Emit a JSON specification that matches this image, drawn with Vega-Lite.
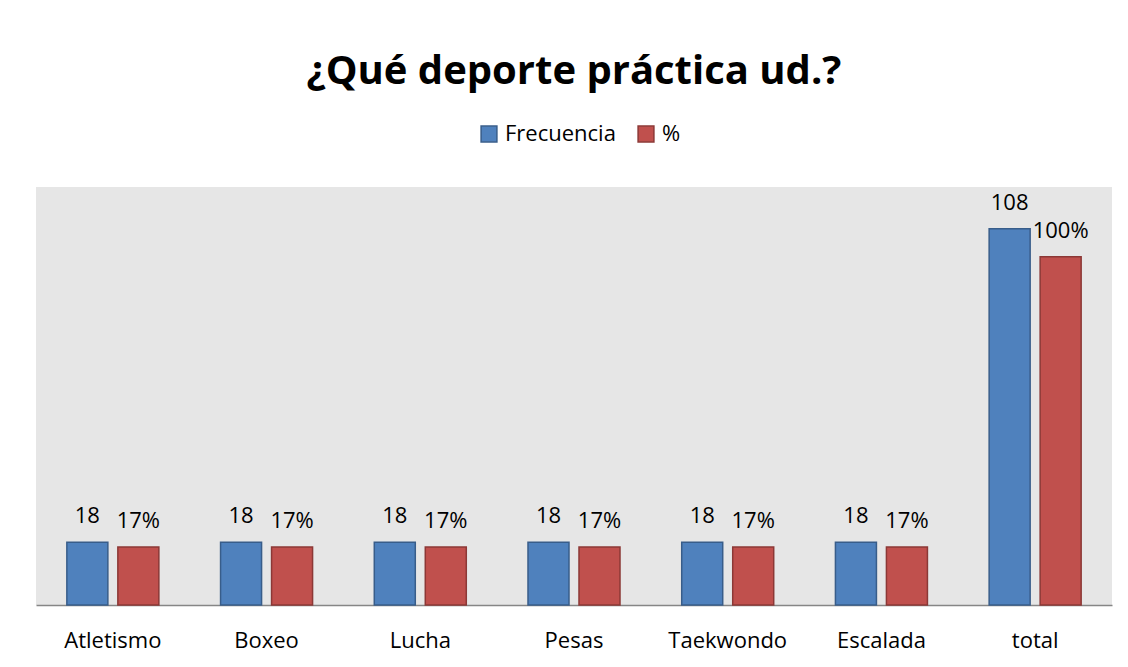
{
  "$schema": "https://vega.github.io/schema/vega-lite/v6.json",
  "width": 1076,
  "height": 418,
  "autosize": {"type": "none"},
  "padding": {"left": 36, "top": 187, "right": 16, "bottom": 62},
  "background": "white",
  "title": {
    "text": "¿Qué deporte práctica ud.?",
    "anchor": "middle",
    "font": "Open Sans",
    "fontSize": 40,
    "fontWeight": "bold",
    "color": "black",
    "offset": 31
  },
  "config": {
    "view": {"fill": "#e6e6e6", "stroke": null},
    "font": "Open Sans"
  },
  "data": {
    "values": [
      {"categoria": "Atletismo", "serie": "Frecuencia", "valor": 18},
      {"categoria": "Boxeo", "serie": "Frecuencia", "valor": 18},
      {"categoria": "Lucha", "serie": "Frecuencia", "valor": 18},
      {"categoria": "Pesas", "serie": "Frecuencia", "valor": 18},
      {"categoria": "Taekwondo", "serie": "Frecuencia", "valor": 18},
      {"categoria": "Escalada", "serie": "Frecuencia", "valor": 18},
      {"categoria": "total", "serie": "Frecuencia", "valor": 108},
      {"categoria": "Atletismo", "serie": "%", "valor": 0.1667},
      {"categoria": "Boxeo", "serie": "%", "valor": 0.1667},
      {"categoria": "Lucha", "serie": "%", "valor": 0.1667},
      {"categoria": "Pesas", "serie": "%", "valor": 0.1667},
      {"categoria": "Taekwondo", "serie": "%", "valor": 0.1667},
      {"categoria": "Escalada", "serie": "%", "valor": 0.1667},
      {"categoria": "total", "serie": "%", "valor": 1}
    ]
  },
  "encoding": {
    "x": {
      "field": "categoria",
      "type": "nominal",
      "sort": ["Atletismo", "Boxeo", "Lucha", "Pesas", "Taekwondo", "Escalada", "total"],
      "scale": {"paddingInner": 0, "paddingOuter": 0},
      "axis": {
        "title": null,
        "labelAngle": 0,
        "labelFontSize": 22,
        "labelColor": "black",
        "labelPadding": 25,
        "labelBaseline": "top",
        "ticks": false,
        "domainColor": "#868686",
        "domainWidth": 1.5,
        "grid": false
      }
    },
    "xOffset": {
      "field": "serie",
      "type": "nominal",
      "scale": {"domain": ["Frecuencia", "%"], "paddingInner": 0.196, "paddingOuter": 0.605}
    }
  },
  "layer": [
    {
      "transform": [{"filter": "datum.serie === 'Frecuencia'"}],
      "layer": [
        {
          "mark": {"type": "bar", "strokeWidth": 1.5},
          "encoding": {
            "y": {"field": "valor", "type": "quantitative", "scale": {"domain": [0, 120], "nice": false}, "axis": null},
            "fill": {
              "field": "serie", "type": "nominal",
              "scale": {"domain": ["Frecuencia", "%"], "range": ["#4F81BD", "#C0504D"]},
              "legend": {
                "title": null,
                "orient": "none",
                "legendX": 442,
                "legendY": -64,
                "direction": "horizontal",
                "symbolType": "square",
                "symbolSize": 250,
                "symbolStrokeWidth": 1.5,
                "labelFontSize": 22,
                "labelColor": "black",
                "labelOffset": 5,
                "columnPadding": 19,
                "padding": 0
              }
            },
            "stroke": {
              "field": "serie", "type": "nominal",
              "scale": {"domain": ["Frecuencia", "%"], "range": ["#385D8A", "#8C3836"]}
            }
          }
        },
        {
          "mark": {"type": "text", "baseline": "alphabetic", "dy": -19, "fontSize": 22, "color": "black"},
          "encoding": {
            "y": {"field": "valor", "type": "quantitative", "scale": {"domain": [0, 120], "nice": false}, "axis": null},
            "text": {"field": "valor", "type": "quantitative", "format": "d"}
          }
        }
      ]
    },
    {
      "transform": [{"filter": "datum.serie === '%'"}],
      "layer": [
        {
          "mark": {"type": "bar", "strokeWidth": 1.5},
          "encoding": {
            "y": {"field": "valor", "type": "quantitative", "scale": {"domain": [0, 1.2], "nice": false}, "axis": null},
            "fill": {"field": "serie", "type": "nominal"},
            "stroke": {"field": "serie", "type": "nominal"}
          }
        },
        {
          "mark": {"type": "text", "baseline": "alphabetic", "dy": -19, "fontSize": 22, "color": "black"},
          "encoding": {
            "y": {"field": "valor", "type": "quantitative", "scale": {"domain": [0, 1.2], "nice": false}, "axis": null},
            "text": {"field": "valor", "type": "quantitative", "format": ".0%"}
          }
        }
      ],
      "resolve": {"scale": {"y": "shared"}}
    }
  ],
  "resolve": {"scale": {"y": "independent"}}
}
